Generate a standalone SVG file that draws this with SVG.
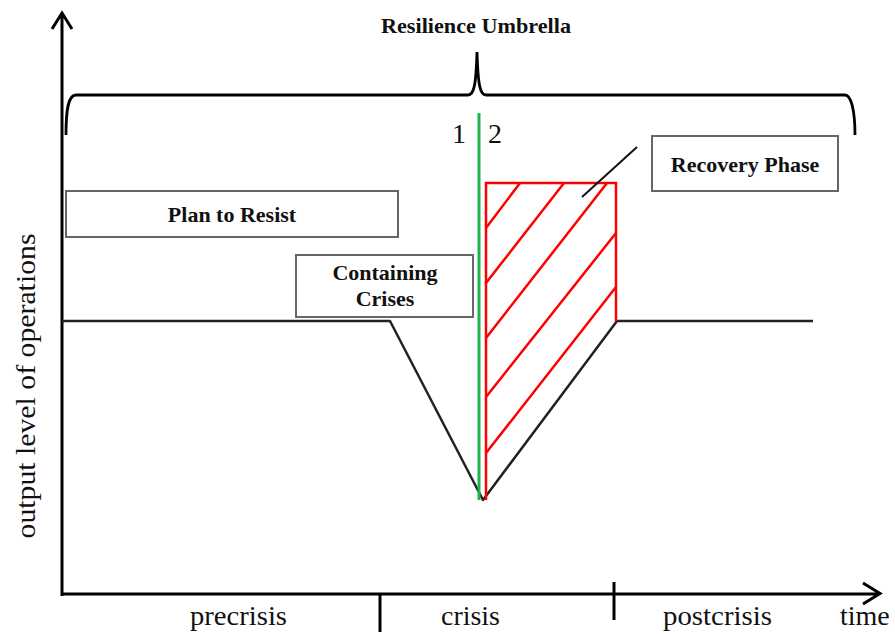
<svg xmlns="http://www.w3.org/2000/svg" width="895" height="634" viewBox="0 0 895 634">
<style>
.ax{stroke:#000;stroke-width:3;fill:none}
.ln{stroke:#222;stroke-width:2.5;fill:none;stroke-linejoin:round}
.red{stroke:#ff0000;stroke-width:2.5;fill:none}
.box{fill:#fff;stroke:#666;stroke-width:2}
.bl{font-family:"Liberation Serif",serif;font-weight:bold;font-size:22px;fill:#111;text-anchor:middle}
.rg{font-family:"Liberation Serif",serif;font-size:28px;fill:#111}
</style>
<rect width="895" height="634" fill="#fff"/>
<g id="axes">
<path class="ax" d="M62,596 V14 M52,29 L62,13 L72,29"/>
<path class="ax" d="M61,594 H879 M863,583 L880,593.5 L863,604"/>
<path class="ax" d="M380,594 V632 M614,582 V620"/>
</g>
<g id="umbrella">
<path d="M66,135 C66,110 68,95 76,95 H468 C474,95 476,85 477,52 C478,85 480,95 486,95 H845 C851,95 855,110 855,135" stroke="#000" stroke-width="2.8" fill="none"/>
<text class="bl" x="476" y="33" font-size="20" textLength="190" lengthAdjust="spacingAndGlyphs">Resilience Umbrella</text>
</g>
<g id="connectors">
<path class="ln" d="M62,321 H390 L483,500 L617,321 H813"/>
<path class="red" d="M486,500 V183 H616 V321"/>
<path class="red" d="M486,228 L520,183 M486,283 L564,183 M486,338 L607,183 M486,397 L616,233 M486,453 L616,287"/>
<line x1="479" y1="113" x2="479" y2="500" stroke="#22b14c" stroke-width="3"/>
<line x1="582" y1="197" x2="637" y2="147" stroke="#111" stroke-width="2"/>
<text class="rg" x="452" y="143">1</text>
<text class="rg" x="488" y="143">2</text>
</g>
<g id="plan">
<rect class="box" x="66" y="191" width="332" height="46"/>
<text class="bl" x="232" y="222">Plan to Resist</text>
</g>
<g id="containing">
<rect class="box" x="296" y="255" width="177" height="62"/>
<text class="bl" x="385" y="280">Containing</text>
<text class="bl" x="385" y="306">Crises</text>
</g>
<g id="recovery">
<rect class="box" x="652" y="136" width="186" height="55" stroke="#333" stroke-width="2.5"/>
<text class="bl" x="745" y="172">Recovery Phase</text>
</g>
<g id="labels">
<text class="rg" x="190" y="625" textLength="97" lengthAdjust="spacingAndGlyphs">precrisis</text>
<text class="rg" x="441" y="625" textLength="59" lengthAdjust="spacingAndGlyphs">crisis</text>
<text class="rg" x="663" y="625" textLength="109" lengthAdjust="spacingAndGlyphs">postcrisis</text>
<text class="rg" x="840" y="625">time</text>
<text class="rg" transform="translate(35,386) rotate(-90)" text-anchor="middle" textLength="305" lengthAdjust="spacingAndGlyphs">output level of operations</text>
</g>
</svg>
